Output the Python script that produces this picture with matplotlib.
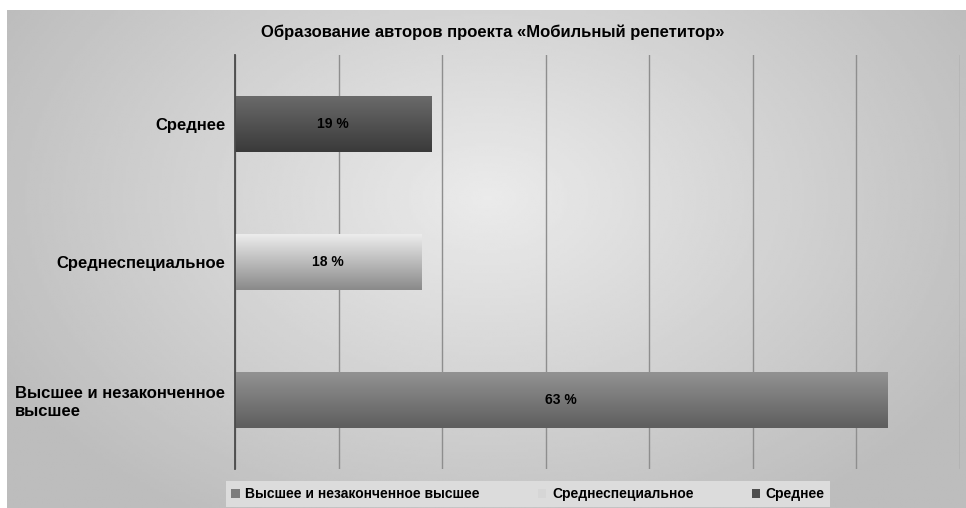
import numpy as np
import matplotlib
matplotlib.use("Agg")
import matplotlib.pyplot as plt
from matplotlib.patches import Patch
from matplotlib.colors import LinearSegmentedColormap

plt.rcParams['font.family'] = ['Liberation Sans', 'DejaVu Sans']

# ---- data ----
title = "Образование авторов проекта «Мобильный репетитор»"
categories = ["Высшее и незаконченное\nвысшее", "Среднеспециальное", "Среднее"]
legend_names = ["Высшее и незаконченное высшее", "Среднеспециальное", "Среднее"]
values = [63, 18, 19]
value_labels = ["63 %", "18 %", "19 %"]
grid_ticks = [0, 10, 20, 30, 40, 50, 60, 70]

# bar gradient colours (top, bottom) and legend colours
bar_grads = [("#929292", "#5e5e5e"), ("#ececec", "#8a8a8a"), ("#6a6a6a", "#3a3a3a")]
legend_cols = ["#7c7c7c", "#d6d6d6", "#4e4e4e"]

W, H = 966, 508
fig = plt.figure(figsize=(W / 100, H / 100), dpi=100, facecolor="white")

# background with radial gradient
bg = fig.add_axes([7 / W, 0, 1 - 7 / W, 1 - 10 / H])
bg.set_axis_off()
yy, xx = np.mgrid[0:200, 0:400]
cx, cy = 200, 75
d = np.sqrt(((xx - cx) / 230.0) ** 2 + ((yy - cy) / 150.0) ** 2)
img = 0.92 - 0.18 * np.clip(d, 0, 1)
bg.imshow(img, cmap="gray", vmin=0, vmax=1, aspect="auto", interpolation="bilinear")

# main axes
ax = fig.add_axes([235 / W, 1 - 469 / H, (959.5 - 235) / W, (469 - 55) / H])
ax.patch.set_alpha(0)
ypos = np.arange(len(categories))
bars = ax.barh(ypos, values, height=0.4, color="none", edgecolor="none", zorder=3)

for bar, (top, bot), lab in zip(bars, bar_grads, value_labels):
    cmap = LinearSegmentedColormap.from_list("g", [bot, top])
    x0, y0 = bar.get_x(), bar.get_y()
    w, h = bar.get_width(), bar.get_height()
    grad = np.linspace(0, 1, 100).reshape(-1, 1)
    im = ax.imshow(grad, cmap=cmap, aspect="auto", origin="lower",
                   extent=[x0, x0 + w, y0, y0 + h], zorder=3, interpolation="bilinear")
    im.set_clip_path(bar)
    ax.text(x0 + w / 2, y0 + h / 2, lab, ha="center", va="center",
            fontsize=10, fontweight="bold", color="black", zorder=5)

ax.set_xlim(0, 69)
ax.set_ylim(-0.5, len(categories) - 0.5)
ax.set_xticks(grid_ticks)
ax.set_xticklabels([])
ax.tick_params(axis="x", length=0)
ax.grid(axis="x", color="#8e8e8e", linewidth=1.0, zorder=1)
ax.set_axisbelow(True)
for s in ["top", "right", "bottom"]:
    ax.spines[s].set_visible(False)
ax.spines["left"].set_color("#4a4a4a")
ax.spines["left"].set_linewidth(1.3)
ax.spines["left"].set_zorder(4)

ax.set_yticks(ypos)
ax.set_yticklabels(categories, fontsize=12, fontweight="bold")
for t in ax.get_yticklabels():
    t.set_multialignment("left")
ax.tick_params(axis="y", length=0, pad=7)

fig.text(493 / W, 1 - 32 / H, title, ha="center", va="center",
         fontsize=12, fontweight="bold", color="black")

handles = [Patch(facecolor=c, edgecolor="none") for c in legend_cols]
leg = fig.legend(handles, legend_names, loc="center", bbox_to_anchor=(528 / W, 1 - 494 / H),
                 ncol=3, frameon=True, fancybox=False, facecolor="#dcdcdc", edgecolor="none",
                 framealpha=1, handlelength=0.6, handleheight=0.6, handletextpad=0.4,
                 columnspacing=4.2, borderpad=0.4,
                 prop={"size": 10, "weight": "bold"})

fig.savefig("out.png", dpi=100, facecolor="white")
